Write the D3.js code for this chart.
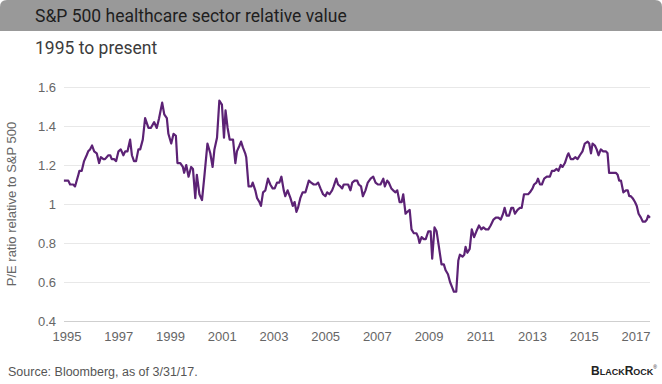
<!DOCTYPE html>
<head>
<meta charset="utf-8">
<title>S&amp;P 500 healthcare sector relative value</title>
<script src="https://cdn.jsdelivr.net/npm/d3@7"></script>
<style>
body { margin: 0; background: #fff; }

.grid line { stroke: #e8e8e8; stroke-width: 1; shape-rendering: crispEdges; }
.grid .base { stroke: #cfcfcf; }
.tick-label { fill: #666; font-family: "Liberation Sans", Arial, sans-serif; font-size: 13px; }

.serie { fill: none; stroke: #5c2275; stroke-width: 2.2; stroke-linejoin: round; }
</style>
</head>
<body>
<div id="container"></div>
<script>

//------------------------DATA-------------------------//
// decimal year of each reading, P/E ratio relative to S&P 500
const years = [
1994.88,1995.05,1995.12,1995.24,1995.31,1995.44,1995.48,1995.57,1995.66,1995.76,1995.82,1995.89,1995.97,
1996.05,1996.15,1996.24,1996.31,1996.41,1996.47,1996.60,1996.67,1996.73,1996.82,1996.90,1996.99,
1997.08,1997.18,1997.25,1997.34,1997.44,1997.51,1997.59,1997.67,1997.76,1997.83,1997.93,
1998.02,1998.15,1998.24,1998.37,1998.47,1998.56,1998.68,1998.76,1998.86,1998.92,
1999.03,1999.12,1999.21,1999.27,1999.38,1999.48,1999.53,1999.61,1999.70,1999.80,1999.87,1999.96,
2000.02,2000.12,2000.22,2000.31,2000.43,2000.54,2000.63,2000.70,2000.80,2000.89,2000.99,
2001.07,2001.13,2001.21,2001.29,2001.42,2001.51,2001.57,2001.67,2001.73,2001.80,2001.89,2001.93,
2002.02,2002.13,2002.18,2002.28,2002.35,2002.44,2002.50,2002.58,2002.67,2002.77,2002.86,2002.95,
2003.03,2003.12,2003.21,2003.29,2003.38,2003.44,2003.53,2003.64,2003.73,2003.80,2003.87,2003.93,
2004.02,2004.11,2004.22,2004.35,2004.44,2004.54,2004.63,2004.71,2004.80,2004.90,2004.99,
2005.06,2005.15,2005.25,2005.31,2005.41,2005.48,2005.57,2005.64,2005.70,2005.79,2005.87,2005.96,
2006.03,2006.12,2006.22,2006.28,2006.37,2006.44,2006.54,2006.63,2006.74,2006.84,2006.93,
2007.02,2007.12,2007.23,2007.29,2007.38,2007.44,2007.54,2007.61,2007.70,2007.77,2007.86,2007.94,
2008.00,2008.09,2008.16,2008.25,2008.32,2008.41,2008.51,2008.58,2008.63,2008.71,2008.80,2008.87,2008.97,
2009.06,2009.12,2009.21,2009.29,2009.38,2009.48,2009.57,2009.64,2009.73,2009.81,2009.90,2009.96,
2010.05,2010.13,2010.19,2010.29,2010.36,2010.41,2010.48,2010.57,2010.65,2010.74,2010.83,2010.93,
2011.02,2011.10,2011.19,2011.29,2011.38,2011.49,2011.58,2011.68,2011.77,2011.86,2011.92,
2012.00,2012.09,2012.18,2012.25,2012.32,2012.42,2012.51,2012.58,2012.67,2012.74,2012.83,2012.90,
2013.00,2013.06,2013.15,2013.21,2013.29,2013.36,2013.45,2013.55,2013.67,2013.75,2013.84,2013.93,
2014.00,2014.09,2014.16,2014.25,2014.35,2014.39,2014.48,2014.57,2014.65,2014.74,2014.83,2014.93,
2015.02,2015.13,2015.19,2015.26,2015.32,2015.41,2015.48,2015.55,2015.64,2015.73,2015.84,2015.90,2015.96,
2016.06,2016.16,2016.22,2016.29,2016.35,2016.42,2016.51,2016.61,2016.68,2016.74,2016.80,2016.87,2016.96,
2017.03,2017.10,2017.19,2017.26,2017.36,2017.42,2017.47,2017.54
];

const ratio = [
1.12,1.12,1.10,1.10,1.09,1.15,1.17,1.17,1.22,1.25,1.27,1.28,1.30,
1.27,1.26,1.21,1.24,1.23,1.23,1.25,1.25,1.23,1.23,1.22,1.27,
1.28,1.25,1.27,1.27,1.33,1.25,1.22,1.22,1.28,1.28,1.33,
1.44,1.39,1.39,1.42,1.39,1.44,1.52,1.46,1.44,1.36,
1.31,1.36,1.35,1.21,1.21,1.19,1.16,1.20,1.14,1.19,1.18,1.03,
1.15,1.05,1.02,1.14,1.31,1.26,1.19,1.28,1.34,1.53,1.51,
1.34,1.48,1.39,1.33,1.33,1.21,1.27,1.30,1.32,1.29,1.26,1.24,
1.09,1.09,1.11,1.07,1.03,1.01,0.99,1.06,1.07,1.13,1.10,1.08,
1.08,1.11,1.11,1.14,1.07,1.04,1.07,1.03,0.99,1.01,0.96,0.98,
1.03,1.06,1.06,1.12,1.11,1.10,1.10,1.11,1.08,1.05,1.04,
1.06,1.05,1.07,1.09,1.13,1.10,1.09,1.08,1.10,1.10,1.10,1.07,
1.11,1.12,1.12,1.10,1.09,1.04,1.07,1.11,1.13,1.14,1.11,
1.10,1.10,1.13,1.09,1.12,1.11,1.08,1.07,1.06,1.07,1.01,1.01,
1.05,0.95,0.96,0.97,0.87,0.85,0.85,0.83,0.80,0.83,0.82,0.82,0.86,
0.86,0.72,0.88,0.86,0.78,0.69,0.69,0.66,0.64,0.60,0.57,0.55,
0.55,0.71,0.74,0.73,0.74,0.78,0.75,0.77,0.87,0.83,0.86,0.89,
0.87,0.88,0.87,0.87,0.89,0.92,0.93,0.93,0.92,0.95,0.98,
0.94,0.94,0.98,0.98,0.95,0.97,0.98,0.98,1.05,1.05,1.05,1.06,
1.08,1.10,1.11,1.13,1.10,1.10,1.13,1.14,1.14,1.17,1.17,1.18,
1.17,1.20,1.19,1.21,1.25,1.26,1.23,1.23,1.24,1.23,1.25,1.27,
1.31,1.32,1.31,1.26,1.31,1.30,1.28,1.25,1.28,1.27,1.27,1.26,1.16,
1.16,1.16,1.16,1.15,1.12,1.12,1.06,1.07,1.07,1.04,1.04,1.03,1.01,
0.99,0.95,0.93,0.91,0.91,0.92,0.94,0.93
];

const xTicks = [1995,1997,1999,2001,2003,2005,2007,2009,2011,2013,2015,2017];
const yTicks = [0.4,0.6,0.8,1,1.2,1.4,1.6];

const title = "S&P 500 healthcare sector relative value";
const subtitle = "1995 to present";
const yTitle = "P/E ratio relative to S&P 500";
const source = "Source: Bloomberg, as of 3/31/17.";

//------------------------SVG-------------------------//
const W = 662, H = 384;
const svg = d3.select("#container").append("svg")
    .attr("width", W)
    .attr("height", H);

// header bar with rounded top corners
svg.append("path")
    .attr("d", "M0,31 L0,7 Q0,0 7,0 L655,0 Q662,0 662,7 L662,31 Z")
    .attr("fill", "#999999");

svg.append("text")
    .attr("x", 35).attr("y", 22)
    .style("font-family", "Roboto, sans-serif")
    .style("font-size", "17.5px")
    .attr("fill", "#1e1e1e")
    .text(title);

svg.append("text")
    .attr("x", 35).attr("y", 54)
    .style("font-family", "Roboto, sans-serif")
    .style("font-size", "17.5px")
    .attr("fill", "#3c3c3c")
    .text(subtitle);

//------------------------SCALES-------------------------//
const xScale = d3.scaleLinear().domain([1995, 2017]).range([67, 636]);
const yScale = d3.scaleLinear().domain([0.4, 1.6]).range([321, 87]);
const gridLeft = 64, gridRight = 650;

//------------------------GRID + AXES-------------------------//
const grid = svg.append("g").attr("class", "grid");
grid.selectAll("line")
    .data(yTicks)
    .enter().append("line")
    .attr("class", d => d === 0.4 ? "base" : null)
    .attr("x1", gridLeft).attr("x2", gridRight)
    .attr("y1", d => Math.round(yScale(d)) + 0.5)
    .attr("y2", d => Math.round(yScale(d)) + 0.5);

svg.append("g").selectAll("text")
    .data(yTicks)
    .enter().append("text")
    .attr("class", "tick-label")
    .attr("x", 56)
    .attr("y", d => yScale(d) + 4.5)
    .attr("text-anchor", "end")
    .text(d => d3.format("")(d));

svg.append("g").selectAll("text")
    .data(xTicks)
    .enter().append("text")
    .attr("class", "tick-label")
    .attr("x", d => xScale(d))
    .attr("y", 341)
    .attr("text-anchor", "middle")
    .text(d => d);

svg.append("text")
    .attr("class", "tick-label")
    .attr("transform", "translate(16," + yScale(1) + ") rotate(-90)")
    .attr("text-anchor", "middle")
    .style("font-size", "13px")
    .text(yTitle);

//------------------------LINE-------------------------//
const data = years.map((y, i) => ({ t: y, v: ratio[i] }));

const line = d3.line()
    .x(d => xScale(d.t))
    .y(d => yScale(d.v));

svg.append("path")
    .datum(data)
    .attr("class", "serie")
    .attr("d", line);

//------------------------FOOTER-------------------------//
svg.append("text")
    .attr("x", 8).attr("y", 376)
    .style("font-family", "Liberation Sans, Arial, sans-serif")
    .style("font-size", "12.5px")
    .attr("fill", "#555")
    .text(source);

// logo wordmark
const logo = svg.append("text")
    .attr("x", 591).attr("y", 375)
    .style("font-family", "Liberation Sans, Arial, sans-serif")
    .style("font-weight", "bold")
    .attr("fill", "#222");
logo.append("tspan").style("font-size", "12px").text("B");
logo.append("tspan").style("font-size", "9px").text("LACK");
logo.append("tspan").style("font-size", "12px").text("R");
logo.append("tspan").style("font-size", "9px").text("OCK");
logo.append("tspan").style("font-size", "5px").style("font-weight", "normal").attr("dy", -6).text("®");

</script>
</body>
